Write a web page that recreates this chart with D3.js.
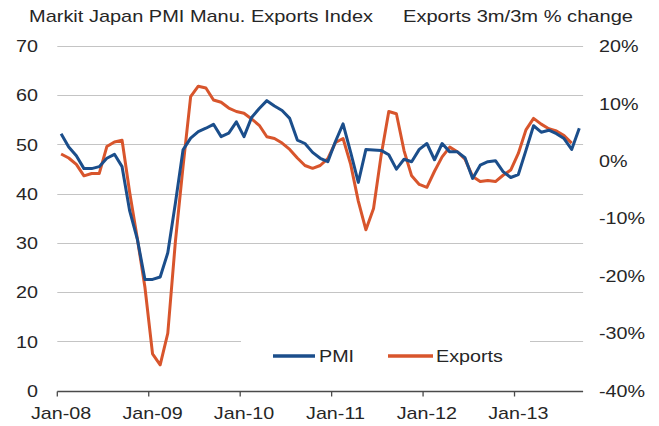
<!DOCTYPE html>
<html>
<head>
<meta charset="utf-8">
<script src="https://cdn.jsdelivr.net/npm/d3@7"></script>
<style>
  html, body { margin: 0; padding: 0; background: #fff; }
  svg { display: block; }
  text { font-family: "Liberation Sans", Arial, sans-serif; font-size: 17px; fill: #262626; }
</style>
</head>
<body>
<svg id="chart" width="659" height="426"></svg>
<script>
// Monthly categories, Jan-2008 .. Sep-2013
const months = d3.timeMonths(new Date(2008, 0, 1), new Date(2013, 9, 1));

// Markit Japan PMI Manufacturing – new export orders index (left axis)
const pmi = [
  52.2, 49.5, 47.7, 45.1, 45.1, 45.5, 47.2, 48.0, 45.5, 36.5, 30.8, 22.6,
  22.6, 23.1, 28.0, 38.1, 48.9, 51.3, 52.6, 53.3, 54.1, 51.6, 52.3, 54.6,
  51.6, 55.5, 57.3, 58.9, 57.8, 56.9, 55.3, 50.9, 50.2, 48.4, 47.2, 46.5,
  50.6, 54.2, 48.4, 42.3, 49.0, 48.9, 48.8, 47.9, 45.0, 47.0, 46.5, 49.0,
  50.2, 46.9, 50.2, 48.5, 48.5, 47.3, 43.1, 45.8, 46.5, 46.7, 44.5, 43.3,
  43.9, 48.8, 53.8, 52.5, 52.9, 52.2, 51.2, 49.0, 53.3
];

// Exports, 3m/3m % change (right axis)
const exportsChg = [
  1.2, 0.5, -0.6, -2.6, -2.2, -2.2, 2.5, 3.3, 3.6, -5.5, -13.5, -22.0,
  -33.6, -35.5, -30.0, -14.0, -1.0, 11.2, 13.0, 12.7, 10.6, 10.2, 9.2, 8.6,
  8.3, 7.3, 6.2, 4.2, 3.9, 3.1, 2.0, 0.5, -0.8, -1.3, -0.8, 0.4,
  3.2, 3.9, -0.6, -7.0, -12.0, -8.3, 1.0, 8.6, 8.2, 1.8, -2.6, -4.1,
  -4.6, -1.8, 0.7, 2.4, 1.6, 0.3, -2.7, -3.6, -3.4, -3.6, -2.5, -1.6,
  1.3, 5.4, 7.4, 6.4, 5.6, 5.2, 4.4, 3.1
];

const leftTicks = [0, 10, 20, 30, 40, 50, 60, 70];
const rightTicks = [-40, -30, -20, -10, 0, 10, 20];
const xTickLabels = ["Jan-08", "Jan-09", "Jan-10", "Jan-11", "Jan-12", "Jan-13"];
const seriesNames = ["PMI", "Exports"];
const titleLeft = "Markit  Japan  PMI  Manu.  Exports Index";
const titleRight = "Exports 3m/3m % change";

const colors = { pmi: "#1b4e8b", exp: "#d8552c" };
const fmtMonth = d3.timeFormat("%b-%y");

const svg = d3.select("#chart");
const plot = { left: 57.3, right: 583.1, top: 46, bottom: 390.7 };
const stretch = 1.16;

const x = d3.scaleBand()
  .domain(months.map(fmtMonth))
  .range([plot.left, plot.right])
  .padding(0);
const xc = i => x(fmtMonth(months[i])) + x.bandwidth() / 2;

const yL = d3.scaleLinear().domain([0, 70]).range([plot.bottom, plot.top]);
const yR = d3.scaleLinear().domain([-40, 20]).range([plot.bottom, plot.top]);

// Text helper: slightly widened glyphs
function label(g, str, px, py, anchor, len) {
  const t = g.append("text")
    .attr("text-anchor", anchor)
    .attr("transform", `translate(${px},${py}) scale(${stretch},1)`)
    .text(str);
  if (len) {
    t.attr("transform", `translate(${px},${py})`)
      .attr("textLength", len).attr("lengthAdjust", "spacingAndGlyphs");
  }
  return t;
}

// Horizontal gridlines (left axis)
svg.append("g").selectAll("line").data(leftTicks.filter(d => d > 0)).join("line")
  .attr("x1", plot.left).attr("x2", plot.right)
  .attr("y1", d => Math.round(yL(d)) + 0.5).attr("y2", d => Math.round(yL(d)) + 0.5)
  .attr("stroke", "#c4c4c4").attr("stroke-width", 1);

// Category axis line and yearly tick marks
const axisG = svg.append("g");
const yAxisPix = Math.round(yL(0)) + 0.5;
axisG.append("line")
  .attr("x1", plot.left).attr("x2", plot.right)
  .attr("y1", yAxisPix).attr("y2", yAxisPix)
  .attr("stroke", "#4a4a4a").attr("stroke-width", 1.3);
const yearIdx = xTickLabels.map(l => months.findIndex(m => fmtMonth(m) === l));
axisG.selectAll("line.tick").data(yearIdx).join("line").attr("class", "tick")
  .attr("x1", i => x(fmtMonth(months[i]))).attr("x2", i => x(fmtMonth(months[i])))
  .attr("y1", yAxisPix).attr("y2", yAxisPix + 5)
  .attr("stroke", "#4a4a4a").attr("stroke-width", 1.3);
yearIdx.forEach((i, k) => label(axisG, xTickLabels[k], xc(i), 419, "middle"));

// Left and right value labels
const lg = svg.append("g");
leftTicks.forEach(v => label(lg, String(v), 38, yL(v) + 6.1, "end"));
rightTicks.forEach(v => label(lg, v + "%", 599, yR(v) + 6.1, "start"));

// Axis titles
label(svg, titleLeft, 29, 22, "start", 344);
label(svg, titleRight, 403, 22, "start", 230);

// Legend box (sits over the gridline)
const leg = svg.append("g");
leg.append("rect").attr("x", 241).attr("y", 334).attr("width", 289).attr("height", 44).attr("fill", "#fff");

// Series lines
const linePmi = d3.line().x((d, i) => xc(i)).y(d => yL(d));
const lineExp = d3.line().x((d, i) => xc(i)).y(d => yR(d));

svg.append("path").datum(exportsChg)
  .attr("d", lineExp).attr("fill", "none")
  .attr("stroke", colors.exp).attr("stroke-width", 3).attr("stroke-linejoin", "round");
svg.append("path").datum(pmi)
  .attr("d", linePmi).attr("fill", "none")
  .attr("stroke", colors.pmi).attr("stroke-width", 3).attr("stroke-linejoin", "round");

// Legend entries
const legItems = [
  { name: seriesNames[0], color: colors.pmi, x0: 273, x1: 315, tx: 319 },
  { name: seriesNames[1], color: colors.exp, x0: 388, x1: 433, tx: 436 }
];
legItems.forEach(d => {
  leg.append("line").attr("x1", d.x0).attr("x2", d.x1).attr("y1", 356).attr("y2", 356)
    .attr("stroke", d.color).attr("stroke-width", 3.5);
  label(leg, d.name, d.tx, 362, "start");
});
</script>
</body>
</html>
